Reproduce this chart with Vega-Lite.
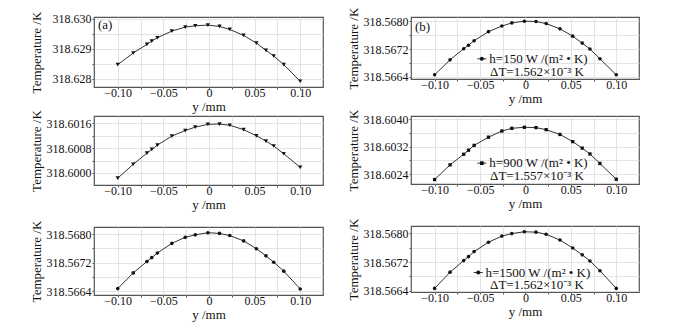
{
"$schema":"https://vega.github.io/schema/vega-lite/v6.json",
"padding":{"left":29,"top":6,"right":5,"bottom":2},
"background":"white",
"spacing":22,
"datasets":{
"a":[{"y":-0.1,"T":318.628467},{"y":-0.083,"T":318.628856},{"y":-0.068,"T":318.629144},{"y":-0.0627,"T":318.629256},{"y":-0.0565,"T":318.629367},{"y":-0.0407,"T":318.629589},{"y":-0.026,"T":318.629722},{"y":-0.015,"T":318.629767},{"y":-0.0012,"T":318.629789},{"y":0.0116,"T":318.629744},{"y":0.0228,"T":318.629644},{"y":0.038,"T":318.629444},{"y":0.052,"T":318.629189},{"y":0.0625,"T":318.628944},{"y":0.071,"T":318.628756},{"y":0.082,"T":318.628467},{"y":0.1,"T":318.627911}],
"b":[{"y":-0.1,"T":318.56646},{"y":-0.083,"T":318.56689},{"y":-0.068,"T":318.56721},{"y":-0.0627,"T":318.56731},{"y":-0.0565,"T":318.56744},{"y":-0.0407,"T":318.5677},{"y":-0.026,"T":318.56786},{"y":-0.015,"T":318.56795},{"y":-0.0012,"T":318.5680},{"y":0.0116,"T":318.56799},{"y":0.0228,"T":318.56793},{"y":0.038,"T":318.56778},{"y":0.052,"T":318.56757},{"y":0.0625,"T":318.56737},{"y":0.071,"T":318.5672},{"y":0.082,"T":318.56692},{"y":0.1,"T":318.56646}],
"c":[{"y":-0.1,"T":318.59983},{"y":-0.083,"T":318.60028},{"y":-0.068,"T":318.60064},{"y":-0.0627,"T":318.60076},{"y":-0.0565,"T":318.6009},{"y":-0.0407,"T":318.60119},{"y":-0.026,"T":318.60137},{"y":-0.015,"T":318.60148},{"y":-0.0012,"T":318.60157},{"y":0.0116,"T":318.60158},{"y":0.0228,"T":318.60154},{"y":0.038,"T":318.6014},{"y":0.052,"T":318.6012},{"y":0.0625,"T":318.60103},{"y":0.071,"T":318.60087},{"y":0.082,"T":318.60062},{"y":0.1,"T":318.60018}],
"d":[{"y":-0.1,"T":318.60224},{"y":-0.083,"T":318.60267},{"y":-0.068,"T":318.60298},{"y":-0.0627,"T":318.6031},{"y":-0.0565,"T":318.60324},{"y":-0.0407,"T":318.60348},{"y":-0.026,"T":318.60366},{"y":-0.015,"T":318.60374},{"y":-0.0012,"T":318.60377},{"y":0.0116,"T":318.60376},{"y":0.0228,"T":318.6037},{"y":0.038,"T":318.60356},{"y":0.052,"T":318.60335},{"y":0.0625,"T":318.60316},{"y":0.071,"T":318.60299},{"y":0.082,"T":318.60271},{"y":0.1,"T":318.60225}],
"e":[{"y":-0.1,"T":318.56647},{"y":-0.083,"T":318.56691},{"y":-0.068,"T":318.56723},{"y":-0.0627,"T":318.56734},{"y":-0.0565,"T":318.56747},{"y":-0.0407,"T":318.56774},{"y":-0.026,"T":318.56791},{"y":-0.015,"T":318.56798},{"y":-0.0012,"T":318.56804},{"y":0.0116,"T":318.56802},{"y":0.0228,"T":318.56796},{"y":0.038,"T":318.56781},{"y":0.052,"T":318.56759},{"y":0.0625,"T":318.56739},{"y":0.071,"T":318.56721},{"y":0.082,"T":318.56696},{"y":0.1,"T":318.56646}],
"f":[{"y":-0.1,"T":318.56647},{"y":-0.083,"T":318.56692},{"y":-0.068,"T":318.56724},{"y":-0.0627,"T":318.56735},{"y":-0.0565,"T":318.56749},{"y":-0.0407,"T":318.56775},{"y":-0.026,"T":318.56792},{"y":-0.015,"T":318.56799},{"y":-0.0012,"T":318.56804},{"y":0.0116,"T":318.56803},{"y":0.0228,"T":318.56797},{"y":0.038,"T":318.56781},{"y":0.052,"T":318.56759},{"y":0.0625,"T":318.5674},{"y":0.071,"T":318.56723},{"y":0.082,"T":318.56696},{"y":0.1,"T":318.56647}]
},
"hconcat":[
{"spacing":-5,"vconcat":[
 {"width":229,"height":70,"data":{"name":"a"},
  "encoding":{
   "x":{"field":"y","type":"quantitative","scale":{"domain":[-0.126,0.125],"nice":false,"zero":false},"axis":{"title":"y /mm","values":[-0.1,-0.075,-0.05,-0.025,0,0.025,0.05,0.075,0.1],"labelExpr":"round(datum.value*1000) % 50 == 0 ? (datum.value == 0 ? '0' : format(datum.value, '.2f')) : ''"}},
   "y":{"field":"T","type":"quantitative","scale":{"domain":[318.62772,318.63006],"nice":false,"zero":false},"axis":{"title":"Temperature /K","titlePadding":9,"values":[318.628,318.6285,318.629,318.6295,318.63],"labelExpr":"round(datum.value*10000) % 10 == 0 ? format(datum.value, '.3f') : ''"}}
  },
  "layer":[
   {"mark":{"type":"line","color":"#333","strokeWidth":1},"encoding":{}},
   {"mark":{"type":"point","shape":"triangle-down","filled":true,"color":"#111","size":18,"opacity":1}},
   {"data":{"values":[{"y":-0.1216,"T":318.62978,"t":"(a)"}]},"mark":{"type":"text","align":"left","baseline":"middle","fontSize":13,"color":"#111"},"encoding":{"text":{"field":"t"}}}
  ]},
 {"spacing":7,"vconcat":[
  {"width":229,"height":69,"data":{"name":"c"},
   "encoding":{
    "x":{"field":"y","type":"quantitative","scale":{"domain":[-0.126,0.125],"nice":false,"zero":false},"axis":{"title":"y /mm","values":[-0.1,-0.075,-0.05,-0.025,0,0.025,0.05,0.075,0.1],"labelExpr":"round(datum.value*1000) % 50 == 0 ? (datum.value == 0 ? '0' : format(datum.value, '.2f')) : ''"}},
    "y":{"field":"T","type":"quantitative","scale":{"domain":[318.59961,318.60184],"nice":false,"zero":false},"axis":{"title":"Temperature /K","values":[318.6,318.6004,318.6008,318.6012,318.6016],"labelExpr":"round(datum.value*10000) % 8 == 0 ? format(datum.value, '.4f') : ''"}}
   },
   "layer":[
    {"mark":{"type":"line","color":"#333","strokeWidth":1},"encoding":{}},
    {"mark":{"type":"point","shape":"triangle-down","filled":true,"color":"#111","size":18,"opacity":1}}
   ]},
  {"width":229,"height":68,"data":{"name":"e"},
   "encoding":{
    "x":{"field":"y","type":"quantitative","scale":{"domain":[-0.126,0.125],"nice":false,"zero":false},"axis":{"title":"y /mm","values":[-0.1,-0.075,-0.05,-0.025,0,0.025,0.05,0.075,0.1],"labelExpr":"round(datum.value*1000) % 50 == 0 ? (datum.value == 0 ? '0' : format(datum.value, '.2f')) : ''"}},
    "y":{"field":"T","type":"quantitative","scale":{"domain":[318.56629,318.5682],"nice":false,"zero":false},"axis":{"title":"Temperature /K","values":[318.5664,318.5668,318.5672,318.5676,318.568],"labelExpr":"round(datum.value*10000) % 8 == 0 ? format(datum.value, '.4f') : ''"}}
   },
   "layer":[
    {"mark":{"type":"line","color":"#333","strokeWidth":1},"encoding":{}},
    {"mark":{"type":"point","shape":"circle","filled":true,"color":"#111","size":13,"opacity":1}}
   ]}
 ]}
]},
{"spacing":2,"vconcat":[
 {"width":228,"height":62,"data":{"name":"b"},
  "encoding":{
   "x":{"field":"y","type":"quantitative","scale":{"domain":[-0.126,0.125],"nice":false,"zero":false},"axis":{"title":"y /mm","values":[-0.1,-0.075,-0.05,-0.025,0,0.025,0.05,0.075,0.1],"labelExpr":"round(datum.value*1000) % 50 == 0 ? (datum.value == 0 ? '0' : format(datum.value, '.2f')) : ''"}},
   "y":{"field":"T","type":"quantitative","scale":{"domain":[318.56634,318.56812],"nice":false,"zero":false},"axis":{"title":"Temperature /K","values":[318.5664,318.5668,318.5672,318.5676,318.568],"labelExpr":"round(datum.value*10000) % 8 == 0 ? format(datum.value, '.4f') : ''"}}
  },
  "layer":[
   {"mark":{"type":"line","color":"#333","strokeWidth":1},"encoding":{}},
   {"mark":{"type":"point","shape":"circle","filled":true,"color":"#111","size":13,"opacity":1}},
   {"data":{"values":[{"y":-0.1216,"T":318.56783,"t":"(b)"},{"y":-0.0398,"T":318.56692,"t":"h=150 W /(m² • K)"},{"y":-0.039,"T":318.56655,"t":"ΔT=1.562×10⁻³ K"}]},"mark":{"type":"text","align":"left","baseline":"middle","fontSize":13,"color":"#111"},"encoding":{"text":{"field":"t"}}},
   {"data":{"values":[{"y":-0.053,"y2":-0.043,"T":318.56692}]},"mark":{"type":"rule","color":"#333","strokeWidth":1},"encoding":{"x2":{"field":"y2"}}},
   {"data":{"values":[{"y":-0.048,"T":318.56692}]},"mark":{"type":"point","shape":"circle","filled":true,"color":"#111","size":16,"opacity":1}}
  ]},
 {"spacing":6,"vconcat":[
 {"width":228,"height":68,"data":{"name":"d"},
  "encoding":{
   "x":{"field":"y","type":"quantitative","scale":{"domain":[-0.126,0.125],"nice":false,"zero":false},"axis":{"title":"y /mm","values":[-0.1,-0.075,-0.05,-0.025,0,0.025,0.05,0.075,0.1],"labelExpr":"round(datum.value*1000) % 50 == 0 ? (datum.value == 0 ? '0' : format(datum.value, '.2f')) : ''"}},
   "y":{"field":"T","type":"quantitative","scale":{"domain":[318.60211,318.6041],"nice":false,"zero":false},"axis":{"title":"Temperature /K","values":[318.6024,318.6028,318.6032,318.6036,318.604],"labelExpr":"round(datum.value*10000) % 8 == 0 ? format(datum.value, '.4f') : ''"}}
  },
  "layer":[
   {"mark":{"type":"line","color":"#333","strokeWidth":1},"encoding":{}},
   {"mark":{"type":"square","filled":true,"color":"#111","size":11,"opacity":1}},
   {"data":{"values":[{"y":-0.0398,"T":318.60272,"t":"h=900 W /(m² • K)"},{"y":-0.039,"T":318.60233,"t":"ΔT=1.557×10⁻³ K"}]},"mark":{"type":"text","align":"left","baseline":"middle","fontSize":13,"color":"#111"},"encoding":{"text":{"field":"t"}}},
   {"data":{"values":[{"y":-0.053,"y2":-0.043,"T":318.60272}]},"mark":{"type":"rule","color":"#333","strokeWidth":1},"encoding":{"x2":{"field":"y2"}}},
   {"data":{"values":[{"y":-0.048,"T":318.60272}]},"mark":{"type":"square","filled":true,"color":"#111","size":14,"opacity":1}}
  ]},
 {"width":228,"height":66,"data":{"name":"f"},
  "encoding":{
   "x":{"field":"y","type":"quantitative","scale":{"domain":[-0.126,0.125],"nice":false,"zero":false},"axis":{"title":"y /mm","values":[-0.1,-0.075,-0.05,-0.025,0,0.025,0.05,0.075,0.1],"labelExpr":"round(datum.value*1000) % 50 == 0 ? (datum.value == 0 ? '0' : format(datum.value, '.2f')) : ''"}},
   "y":{"field":"T","type":"quantitative","scale":{"domain":[318.56637,318.5682],"nice":false,"zero":false},"axis":{"title":"Temperature /K","values":[318.5664,318.5668,318.5672,318.5676,318.568],"labelExpr":"round(datum.value*10000) % 8 == 0 ? format(datum.value, '.4f') : ''"}}
  },
  "layer":[
   {"mark":{"type":"line","color":"#333","strokeWidth":1},"encoding":{}},
   {"mark":{"type":"point","shape":"circle","filled":true,"color":"#111","size":13,"opacity":1}},
   {"data":{"values":[{"y":-0.044,"T":318.56691,"t":"h=1500 W /(m² • K)"},{"y":-0.039,"T":318.56656,"t":"ΔT=1.562×10⁻³ K"}]},"mark":{"type":"text","align":"left","baseline":"middle","fontSize":13,"color":"#111"},"encoding":{"text":{"field":"t"}}},
   {"data":{"values":[{"y":-0.057,"y2":-0.047,"T":318.56691}]},"mark":{"type":"rule","color":"#333","strokeWidth":1},"encoding":{"x2":{"field":"y2"}}},
   {"data":{"values":[{"y":-0.052,"T":318.56691}]},"mark":{"type":"point","shape":"circle","filled":true,"color":"#111","size":16,"opacity":1}}
  ]}
 ]}
]}
],
"config":{
 "font":"Liberation Serif",
 "view":{"stroke":"#555","strokeWidth":1.2},
 "axis":{"domain":false,"grid":true,"gridColor":"#dcdcdc","gridWidth":0.8,"labelFont":"Liberation Serif","labelFontSize":12,"labelColor":"#111","labelOverlap":false,"labelFlush":false,"labelPadding":1,"titleFont":"Liberation Serif","titleFontSize":13,"titleFontWeight":"normal","titleColor":"#111","titlePadding":3,"tickColor":"#555","tickSize":2},
 "axisX":{"labelPadding":-2,"titlePadding":2},
 "text":{"font":"Liberation Serif"}
}
}
